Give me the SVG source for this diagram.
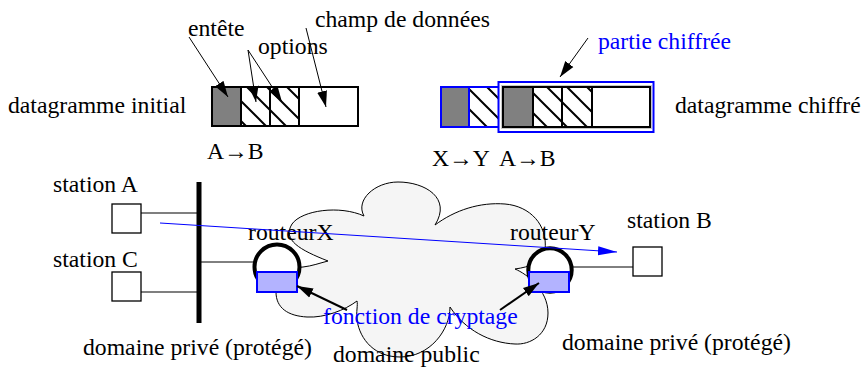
<svg xmlns="http://www.w3.org/2000/svg" width="865" height="372" viewBox="0 0 865 372">
<style>
text{font-family:"Liberation Serif","Times New Roman",serif;font-size:23.7px;fill:#000}
.blue{fill:#0000ff}
.cell{stroke:#000;stroke-width:2}
.bcell{stroke:#0000ff;stroke-width:2}
.gray{fill:#808080}
.hatch{fill:url(#hatch)}
.white{fill:#fff}
.arr{stroke:#000;stroke-width:1;fill:none;marker-end:url(#ah)}
.arr2{stroke:#000;stroke-width:2;fill:none;marker-end:url(#ah)}
.crypt{fill:#b3b3ff;stroke:#0000ff;stroke-width:2}
.router{fill:#fff;stroke:#000;stroke-width:4}
.station{fill:#fff;stroke:#000;stroke-width:1.3}
.link{stroke:#555;stroke-width:1.5;fill:none}
</style>
<defs>
<pattern id="hatch" patternUnits="userSpaceOnUse" width="20" height="20">
<rect width="20" height="20" fill="#fff"/>
<path d="M-5,-5 L25,25 M-5,15 L5,25 M15,-5 L25,5" stroke="#000" stroke-width="2"/>
</pattern>
<marker id="ah" markerUnits="userSpaceOnUse" markerWidth="17" markerHeight="11" refX="16" refY="5.5" orient="auto">
<path d="M0,0.5 L16,5.5 L0,10.5 z" fill="#000"/>
</marker>
<marker id="ahb" markerUnits="userSpaceOnUse" markerWidth="20" markerHeight="11" refX="19" refY="5.5" orient="auto">
<path d="M0,1 L19,5.5 L0,10 z" fill="#0000ff"/>
</marker>
</defs>

<g id="cloud">
<path d="M328,261 C300,250 282,240 292,224 C302,210 340,205 364,216 C355,200 375,182 398,182 C425,182 452,198 435,225 C455,210 480,202 505,204 C530,206 548,225 545,250 C543,262 530,267 515,269 C527,274 548,290 548,313 C548,335 530,345 515,344 C490,343 465,330 450,307 C450,330 430,357 400,357 C375,357 360,340 357,320 C356,312 358,305 357,301 C345,310 325,318 307,317 C288,316 276,308 276,292 C272,280 285,268 303,267 C312,266 320,263 328,261 Z" fill="#f5f5f5" stroke="#000" stroke-width="1"/>
</g>

<g id="datagramme-initial">
<rect x="212" y="87" width="29" height="39" class="cell gray"/>
<rect x="241" y="87" width="29" height="39" class="cell hatch"/>
<rect x="270" y="87" width="29" height="39" class="cell hatch"/>
<rect x="299" y="87" width="59" height="39" class="cell white"/>
<text x="8" y="113">datagramme initial</text>
<text x="207" y="159">A→B</text>
</g>

<g id="labels-top">
<text x="188" y="36">entête</text>
<text x="258" y="54">options</text>
<text x="315" y="27">champ de données</text>
</g>

<g id="datagramme-chiffre">
<rect x="441" y="87" width="28" height="40" class="bcell gray"/>
<rect x="469" y="87" width="31" height="40" class="bcell hatch"/>
<rect x="498.5" y="82" width="155" height="50" fill="#fff" stroke="#0000ff" stroke-width="2"/>
<rect x="503" y="87" width="147" height="40" fill="none" stroke="#c8c8c8" stroke-width="4"/>
<rect x="503" y="87" width="30" height="40" class="cell gray"/>
<rect x="533" y="87" width="29" height="40" class="cell hatch"/>
<rect x="562" y="87" width="30" height="40" class="cell hatch"/>
<rect x="592" y="87" width="58" height="40" class="cell white"/>
<text x="675" y="113">datagramme chiffré</text>
<text x="432" y="166">X→Y</text>
<text x="499" y="166">A→B</text>
<text x="598" y="49" class="blue">partie chiffrée</text>
</g>

<g id="connectors">
<line x1="189" y1="37" x2="228" y2="97" class="arr"/>
<line x1="248" y1="50" x2="256" y2="102" class="arr"/>
<line x1="248" y1="50" x2="282" y2="102" class="arr"/>
<line x1="306" y1="28" x2="326" y2="107" class="arr"/>
<line x1="588" y1="38" x2="560" y2="77" class="arr"/>
<line x1="141" y1="213" x2="198" y2="213" class="link"/>
<line x1="141" y1="292" x2="198" y2="292" class="link"/>
<line x1="199" y1="262" x2="255" y2="262" stroke="#000" stroke-width="1"/>
<line x1="572" y1="267" x2="633" y2="267" stroke="#000" stroke-width="1"/>
<line x1="199" y1="182" x2="199" y2="323" stroke="#000" stroke-width="5"/>
</g>

<g id="station-A">
<rect x="112" y="204" width="29" height="29" class="station"/>
<text x="53" y="192">station A</text>
</g>
<g id="station-C">
<rect x="112" y="272" width="29" height="29" class="station"/>
<text x="53" y="267">station C</text>
</g>
<g id="station-B">
<rect x="633" y="247" width="29" height="29" class="station"/>
<text x="627" y="228">station B</text>
</g>

<g id="routeurX">
<circle cx="277" cy="267" r="22.5" class="router"/>
<rect x="257" y="272" width="40" height="20" class="crypt"/>
<text x="248" y="240">routeurX</text>
</g>
<g id="routeurY">
<circle cx="550" cy="270" r="21.7" class="router"/>
<rect x="529" y="272" width="40" height="20" class="crypt"/>
<text x="510" y="240">routeurY</text>
</g>

<g id="flow">
<line x1="160" y1="223" x2="617" y2="252" stroke="#0000ff" stroke-width="1" marker-end="url(#ahb)"/>
<line x1="347" y1="310" x2="297" y2="286" class="arr2"/>
<line x1="500" y1="310" x2="539" y2="283" class="arr2"/>
</g>

<g id="labels-bottom">
<text x="323" y="324" class="blue">fonction de cryptage</text>
<text x="83" y="355">domaine privé (protégé)</text>
<text x="333" y="362">domaine public</text>
<text x="562" y="350">domaine privé (protégé)</text>
</g>
</svg>
